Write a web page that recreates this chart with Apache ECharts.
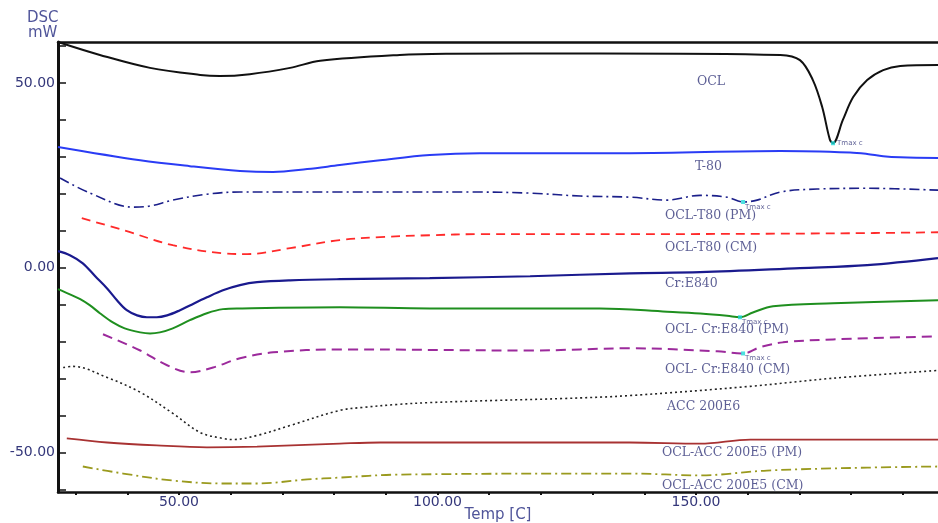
<!DOCTYPE html>
<html><head><meta charset="utf-8">
<script src="https://cdn.jsdelivr.net/npm/echarts@6/dist/echarts.min.js"></script>
<style>html,body{margin:0;padding:0;background:#fff}#c{width:938px;height:523px}</style>
</head><body><div id="c"></div>
<script>
// ---- data (Temp [C], DSC [mW]) ----
const oclT = [26.6, 34.7, 44.4, 54.1, 57.9, 63.7, 71.5, 77.3, 92.7, 102.4, 131.4, 166.3, 170.1, 172.6, 174.4, 175.9, 176.5, 178.4, 180.4, 183.1, 186.2, 189.5, 196.8];
const oclY = [61.1, 57.6, 54.1, 52.2, 51.9, 52.4, 54.1, 56.0, 57.6, 57.9, 58.0, 57.6, 56.2, 50.8, 43.5, 34.6, 33.7, 40.0, 46.2, 50.8, 53.5, 54.6, 54.9];

const t80T = [26.6, 42.5, 52.1, 61.8, 68.2, 74.8, 81.1, 88.9, 98.5, 108.2, 137.2, 166.3, 179.8, 183.1, 186.2, 189.5, 196.8];
const t80Y = [32.7, 29.1, 27.5, 26.2, 25.9, 26.7, 27.8, 29.1, 30.5, 31.0, 31.0, 31.6, 31.2, 30.8, 30.2, 29.9, 29.7];

const pmT80T = [27.0, 32.8, 41.1, 44.4, 48.8, 55.4, 61.8, 81.1, 106.3, 117.9, 127.6, 137.2, 144.4, 150.8, 156.0, 159.1, 161.8, 166.3, 173.4, 183.1, 196.8];
const pmT80Y = [24.3, 20.2, 16.4, 16.7, 18.3, 19.9, 20.5, 20.5, 20.5, 20.2, 19.4, 19.1, 18.3, 19.6, 19.1, 17.8, 18.3, 20.5, 21.3, 21.5, 21.0];

const cmT80T = [31.2, 39.2, 48.8, 58.5, 63.2, 71.5, 81.1, 88.9, 98.5, 108.2, 137.2, 176.5, 196.8];
const cmT80Y = [13.4, 10.2, 6.1, 3.9, 3.7, 5.3, 7.5, 8.3, 8.8, 9.1, 9.1, 9.3, 9.6];

const crT = [26.6, 28.9, 31.4, 33.8, 36.1, 38.0, 39.9, 41.9, 43.8, 45.7, 47.7, 50.2, 52.1, 55.4, 58.5, 61.8, 65.1, 71.5, 81.1, 98.5, 117.9, 137.2, 150.8, 170.1, 183.1, 196.8];
const crY = [4.5, 3.4, 1.2, -2.3, -5.6, -8.8, -11.5, -12.9, -13.4, -13.4, -12.9, -11.5, -10.2, -8.0, -6.1, -4.7, -3.9, -3.4, -3.1, -2.8, -2.3, -1.5, -1.2, -0.1, 0.7, 2.6];

const pmCrT = [26.6, 28.9, 30.9, 32.8, 34.7, 37.2, 39.5, 42.5, 44.4, 46.3, 48.8, 52.1, 55.4, 58.5, 61.8, 81.1, 98.5, 131.4, 144.4, 150.8, 156.0, 158.5, 161.0, 164.9, 176.5, 196.8];
const pmCrY = [-5.8, -7.2, -8.5, -10.2, -12.3, -14.8, -16.4, -17.5, -17.8, -17.5, -16.4, -14.2, -12.3, -11.2, -11.0, -10.7, -11.0, -11.0, -11.9, -12.4, -13.0, -13.4, -12.1, -10.4, -9.6, -8.8];

const cmCrT = [35.3, 42.5, 47.7, 52.1, 56.6, 61.8, 68.2, 81.1, 117.9, 137.2, 154.1, 159.1, 162.4, 166.8, 176.5, 195.8];
const cmCrY = [-18.0, -22.4, -26.4, -28.3, -27.0, -24.5, -22.9, -22.1, -22.4, -21.8, -22.6, -23.2, -21.5, -20.2, -19.4, -18.6];

const accT = [27.6, 29.5, 36.1, 42.5, 48.8, 54.1, 58.5, 60.4, 65.1, 71.5, 81.1, 85.6, 92.2, 98.5, 111.5, 124.3, 137.2, 160.5, 176.5, 196.8];
const accY = [-27.0, -26.7, -29.7, -33.7, -39.4, -44.6, -46.2, -46.5, -45.4, -42.7, -38.6, -37.8, -37.0, -36.5, -35.9, -35.4, -34.6, -32.1, -29.9, -27.8];

const pmAccT = [28.3, 36.1, 45.7, 55.4, 65.1, 81.1, 88.9, 137.2, 150.8, 160.5, 196.8];
const pmAccY = [-46.2, -47.3, -48.1, -48.6, -48.4, -47.6, -47.3, -47.3, -47.6, -46.5, -46.5];

const cmAccT = [31.4, 39.2, 48.8, 58.5, 65.1, 74.8, 81.1, 92.2, 137.2, 150.8, 163.7, 183.1, 196.8];
const cmAccY = [-53.8, -55.7, -57.6, -58.4, -58.4, -57.3, -56.8, -56.0, -55.7, -56.2, -54.9, -54.1, -53.8];

// peak markers
const peakT = [176.5, 159.1, 158.5, 159.1];
const peakY = [33.7, 17.8, -13.4, -23.2];
const peakText = ['Tmax c', 'Tmax c', 'Tmax c', 'Tmax c'];

// curve name labels (anchored in data space)
const labelText = ['OCL', 'T-80', 'OCL-T80 (PM)', 'OCL-T80 (CM)', 'Cr:E840', 'OCL- Cr:E840 (PM)', 'OCL- Cr:E840 (CM)', 'ACC 200E6', 'OCL-ACC 200E5 (PM)', 'OCL-ACC 200E5 (CM)'];
const labelT = [150.2, 149.8, 144.0, 144.0, 144.0, 144.0, 144.0, 144.4, 143.4, 143.4];
const labelY = [50.3, 27.2, 14.2, 5.3, -4.2, -16.7, -27.5, -37.5, -50.0, -58.9];

// axis ticks
const xTicks = [30, 40, 50, 60, 70, 80, 90, 100, 110, 120, 130, 140, 150, 160, 170, 180, 190];
const xLabels = [50, 100, 150];
const yTicks = [-60, -50, -40, -30, -20, -10, 0, 10, 20, 30, 40, 50, 60];
const yLabels = [-50, 0, 50];

// ---- chart ----
const zip = (a, b) => a.map((v, i) => [v, b[i]]);
const curves = [
  {name: 'OCL', t: oclT, y: oclY, color: '#111111', type: 'solid', w: 2},
  {name: 'T-80', t: t80T, y: t80Y, color: '#2a3cf5', type: 'solid', w: 2},
  {name: 'OCL-T80 (PM)', t: pmT80T, y: pmT80Y, color: '#1b1f8a', type: [10, 4, 2, 4], w: 1.6},
  {name: 'OCL-T80 (CM)', t: cmT80T, y: cmT80Y, color: '#ff2a2a', type: [9, 6], w: 1.8},
  {name: 'Cr:E840', t: crT, y: crY, color: '#1a1a8e', type: 'solid', w: 2.2},
  {name: 'OCL- Cr:E840 (PM)', t: pmCrT, y: pmCrY, color: '#1f8f1f', type: 'solid', w: 2},
  {name: 'OCL- Cr:E840 (CM)', t: cmCrT, y: cmCrY, color: '#9c2a9c', type: [10, 6], w: 2},
  {name: 'ACC 200E6', t: accT, y: accY, color: '#222222', type: [2, 3], w: 1.6},
  {name: 'OCL-ACC 200E5 (PM)', t: pmAccT, y: pmAccY, color: '#a83232', type: 'solid', w: 1.8},
  {name: 'OCL-ACC 200E5 (CM)', t: cmAccT, y: cmAccY, color: '#9a9a1e', type: [10, 4, 2, 4], w: 1.8}
];
const txtColor = '#34377a';

const series = curves.map(c => ({
  type: 'line', name: c.name, data: zip(c.t, c.y), smooth: 0.35,
  showSymbol: false, silent: true, clip: true,
  lineStyle: {color: c.color, width: c.w, type: c.type}
}));
series.push({
  type: 'scatter', name: 'peaks', silent: true, z: 5,
  symbol: 'rect', symbolSize: 4, itemStyle: {color: '#1fd8d8'},
  data: peakT.map((t, i) => ({value: [t, peakY[i]], name: peakText[i],
    label: {offset: i === 0 ? [0, 0] : [-2, 5]}})),
  label: {show: true, position: 'right', distance: 2, formatter: p => p.name,
    fontFamily: 'DejaVu Sans', fontSize: 7, color: txtColor}
});
series.push({
  type: 'scatter', name: 'labels', silent: true, symbolSize: 0,
  data: labelT.map((t, i) => ({value: [t, labelY[i]], name: labelText[i]})),
  label: {show: true, position: 'right', distance: 0, formatter: p => p.name,
    fontFamily: 'DejaVu Serif', fontSize: 12.5, color: txtColor}
});

const chart = echarts.init(document.getElementById('c'), null, {renderer: 'canvas'});
chart.setOption({
  animation: false,
  backgroundColor: '#ffffff',
  grid: {left: 58, right: 0, top: 42, bottom: 31, containLabel: false, outerBoundsMode: 'none'},
  graphic: [
    {type: 'text', left: 27, top: 11, style: {text: 'DSC', font: '15px "DejaVu Sans"', fill: '#50559a'}},
    {type: 'text', left: 28, top: 26, style: {text: 'mW', font: '15px "DejaVu Sans"', fill: '#50559a'}}
  ],
  xAxis: [{
    type: 'value', min: 26.6, max: 196.8, position: 'bottom',
    name: 'Temp [C]', nameLocation: 'middle', nameGap: 16, nameMoveOverlap: false,
    nameTextStyle: {fontFamily: 'DejaVu Sans', fontSize: 15, color: '#50559a'},
    axisLine: {show: true, onZero: false, lineStyle: {color: '#111', width: 2.5}},
    axisTick: {show: true, inside: false, length: 3, customValues: xTicks, lineStyle: {color: '#111', width: 2}},
    axisLabel: {show: true, customValues: xLabels, margin: 3, formatter: v => v.toFixed(2),
      fontFamily: 'DejaVu Sans', fontSize: 14, color: txtColor},
    splitLine: {show: false}
  }, {
    type: 'value', min: 26.6, max: 196.8, position: 'top',
    axisLine: {show: true, onZero: false, lineStyle: {color: '#111', width: 2.5}},
    axisTick: {show: false}, axisLabel: {show: false}, splitLine: {show: false}
  }],
  yAxis: {
    type: 'value', min: -60.7, max: 61.1,
    axisLine: {show: true, onZero: false, lineStyle: {color: '#111', width: 3}},
    axisTick: {show: true, inside: true, length: 8, customValues: yTicks, lineStyle: {color: '#111', width: 1.5}},
    axisLabel: {show: true, customValues: yLabels, margin: 3, formatter: v => v.toFixed(2),
      fontFamily: 'DejaVu Sans', fontSize: 14, color: txtColor},
    splitLine: {show: false}
  },
  series: series
});
</script>
</body></html>
